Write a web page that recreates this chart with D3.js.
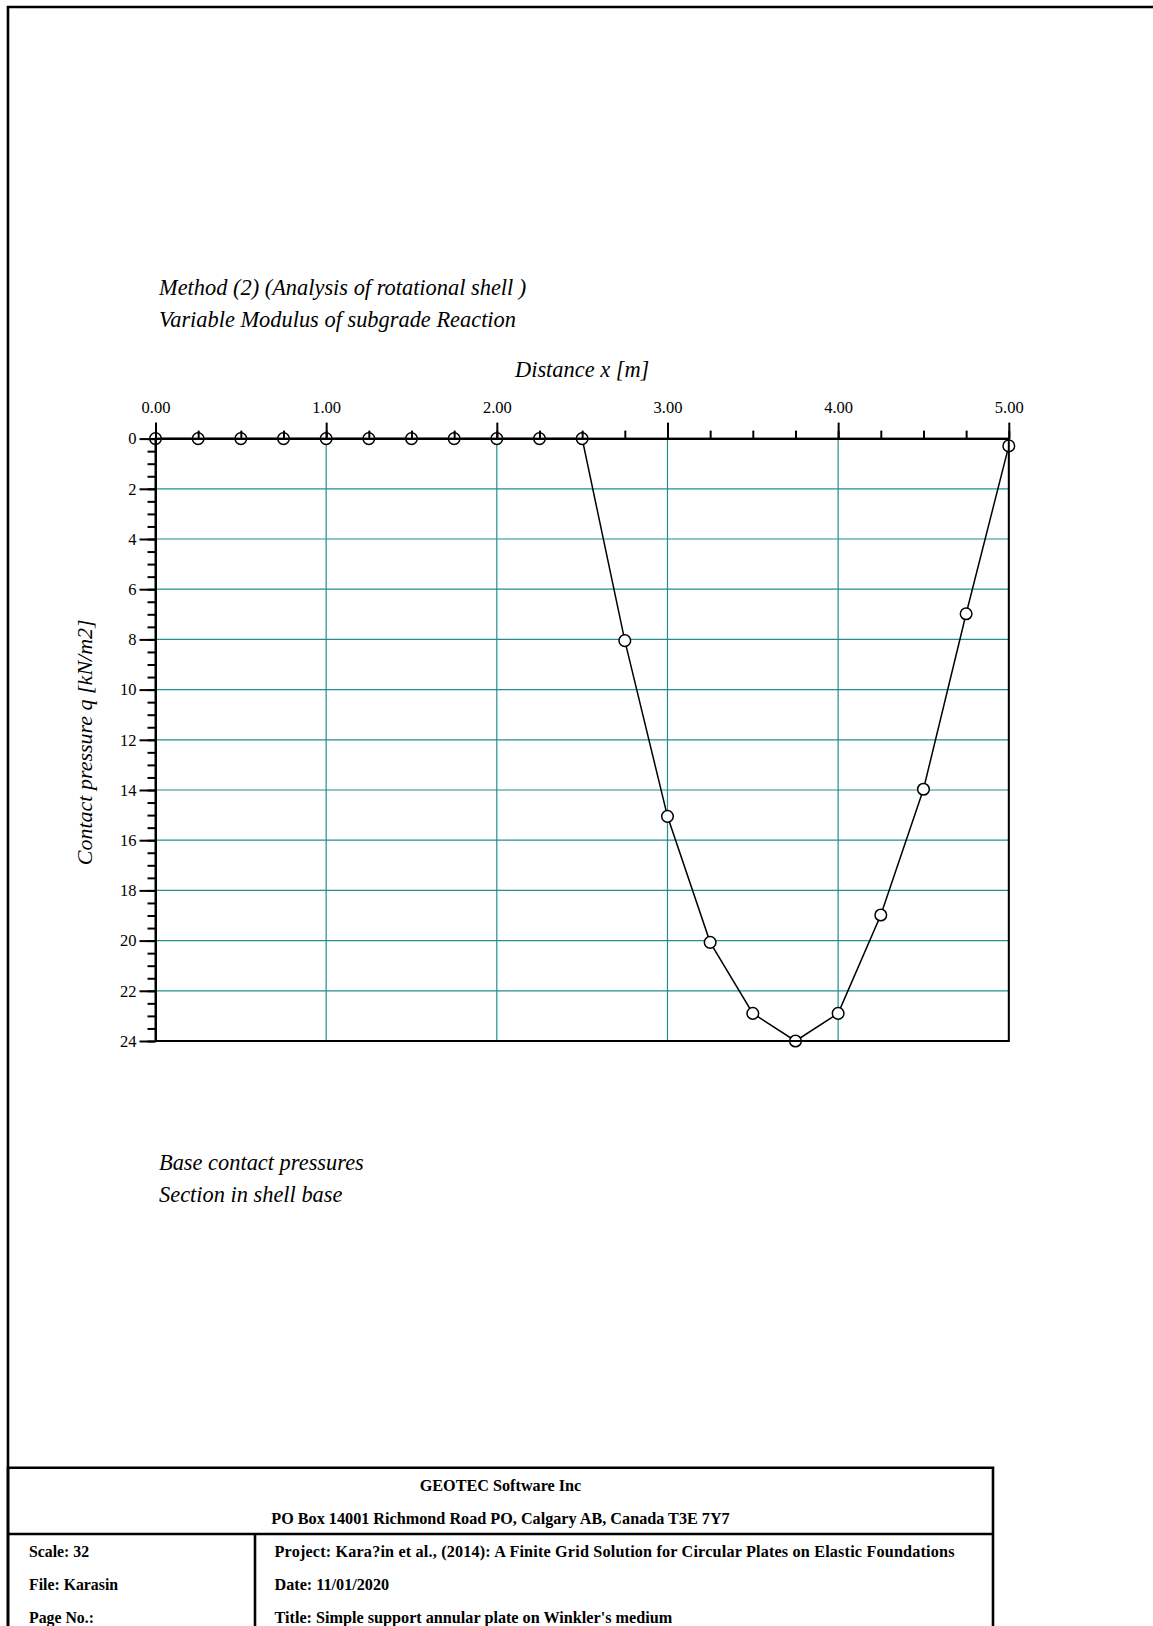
<!DOCTYPE html>
<html>
<head>
<meta charset="utf-8">
<script src="https://cdn.jsdelivr.net/npm/d3@7"></script>
<style>
  body { margin: 0; background: #fff; }
  svg { display: block; }
  text { font-family: "Liberation Serif", "Times New Roman", serif; fill: #000; }
</style>
</head>
<body>
<svg id="chart"></svg>
<script>
// data: distance x [m] and contact pressure q [kN/m2]
var distance = [0, 0.25, 0.5, 0.75, 1.0, 1.25, 1.5, 1.75, 2.0, 2.25, 2.5,
                2.75, 3.0, 3.25, 3.5, 3.75, 4.0, 4.25, 4.5, 4.75, 5.0];
var pressure = [0, 0, 0, 0, 0, 0, 0, 0, 0, 0, 0,
                8.05, 15.05, 20.07, 22.9, 24.0, 22.9, 18.98, 13.97, 6.98, 0.29];

var xTicks = [0, 1, 2, 3, 4, 5];
var yTicks = [0, 2, 4, 6, 8, 10, 12, 14, 16, 18, 20, 22, 24];

var titleLines = ["Method (2) (Analysis of rotational shell )", "Variable Modulus of subgrade Reaction"];
var footLines = ["Base contact pressures", "Section in shell base"];
var xTitle = "Distance x [m]";
var yTitle = "Contact pressure q [kN/m2]";

var headerLines = ["GEOTEC Software Inc", "PO Box 14001 Richmond Road PO, Calgary AB, Canada T3E 7Y7"];
var leftCells = ["Scale: 32", "File: Karasin", "Page No.:"];
var rightCells = ["Project: Kara?in et al., (2014): A Finite Grid Solution for Circular Plates on Elastic Foundations",
                  "Date: 11/01/2020",
                  "Title: Simple support annular plate on Winkler's medium"];

var W = 1153, H = 1626;
var margin = { top: 438.6, left: 155.5, right: 1153 - 1008.8, bottom: 1626 - 1041 };
var width = W - margin.left - margin.right;
var height = H - margin.top - margin.bottom;
var gridColor = "#228e8e";

var svg = d3.select("#chart").attr("width", W).attr("height", H);

// page frame
svg.append("path")
    .attr("d", "M8," + H + "V7H" + W)
    .attr("fill", "none").attr("stroke", "#000").attr("stroke-width", 2.6);

// set the ranges
var x = d3.scaleLinear().domain([0, 5]).range([0, width]);
var y = d3.scaleLinear().domain([0, 24]).range([0, height]);

var g = svg.append("g")
    .attr("transform", "translate(" + margin.left + "," + margin.top + ")");

// grid
g.selectAll("line.hgrid")
    .data(yTicks.filter(function (d) { return d > 0 && d < 24; }))
    .enter().append("line")
    .attr("x1", 0).attr("x2", width)
    .attr("y1", function (d) { return y(d); }).attr("y2", function (d) { return y(d); })
    .attr("stroke", gridColor).attr("stroke-width", 1.2);

g.selectAll("line.vgrid")
    .data(xTicks.filter(function (d) { return d > 0; }))
    .enter().append("line")
    .attr("y1", 0).attr("y2", height)
    .attr("x1", function (d) { return x(d); }).attr("x2", function (d) { return x(d); })
    .attr("stroke", gridColor).attr("stroke-width", 1.2);

// the pressure line
var pts = distance.map(function (d, i) { return { x: d, q: pressure[i] }; });

var valueline = d3.line()
    .x(function (d) { return x(d.x); })
    .y(function (d) { return y(d.q); });

g.append("path")
    .datum(pts)
    .attr("d", valueline)
    .attr("fill", "none").attr("stroke", "#000").attr("stroke-width", 1.5);

g.selectAll("circle.pt")
    .data(pts)
    .enter().append("circle")
    .attr("cx", function (d) { return x(d.x); })
    .attr("cy", function (d) { return y(d.q); })
    .attr("r", 5.8)
    .attr("fill", "#fff").attr("stroke", "#000").attr("stroke-width", 1.5);

// frame of the plot
g.append("rect")
    .attr("width", width).attr("height", height)
    .attr("fill", "none").attr("stroke", "#000").attr("stroke-width", 2);

// X axis (top), minor then major
var xMinor = g.append("g")
    .call(d3.axisTop(x).tickValues(d3.range(0, 5.01, 0.25)).tickSize(8).tickSizeOuter(0).tickFormat(""));
var xMajor = g.append("g")
    .call(d3.axisTop(x).tickValues(xTicks).tickSize(16).tickSizeOuter(0).tickPadding(10).tickFormat(d3.format(".2f")));

// Y axis (left), minor then major
var yMinor = g.append("g")
    .call(d3.axisLeft(y).tickValues(d3.range(0, 24.01, 0.5)).tickSize(8).tickSizeOuter(0).tickFormat(""));
var yMajor = g.append("g")
    .call(d3.axisLeft(y).tickValues(yTicks).tickSize(16).tickSizeOuter(0).tickPadding(3));

[xMinor, xMajor, yMinor, yMajor].forEach(function (a) {
    a.select(".domain").attr("stroke", "#000").attr("stroke-width", 2);
    a.selectAll(".tick line").attr("stroke", "#000").attr("stroke-width", 2);
    a.selectAll(".tick text")
        .attr("font-family", "'Liberation Serif', 'Times New Roman', serif")
        .attr("font-size", 16.5).attr("fill", "#000");
});
yMajor.selectAll(".tick text").attr("font-size", 16.5);

// titles
svg.selectAll("text.title")
    .data(titleLines)
    .enter().append("text")
    .attr("x", 159).attr("y", function (d, i) { return 294.5 + i * 32; })
    .attr("font-size", 22.4).attr("font-style", "italic")
    .text(function (d) { return d; });

svg.selectAll("text.foot")
    .data(footLines)
    .enter().append("text")
    .attr("x", 159).attr("y", function (d, i) { return 1169.5 + i * 32; })
    .attr("font-size", 22.4).attr("font-style", "italic")
    .text(function (d) { return d; });

svg.append("text")
    .attr("x", margin.left + x(2.5)).attr("y", 376.5)
    .attr("text-anchor", "middle")
    .attr("font-size", 22.4).attr("font-style", "italic")
    .text(xTitle);

svg.append("text")
    .attr("transform", "translate(91.5," + (margin.top + y(12.1)) + ") rotate(-90)")
    .attr("text-anchor", "middle")
    .attr("font-size", 22).attr("font-style", "italic")
    .text(yTitle);

// title block
var tb = svg.append("g");
var tbLeft = 8, tbRight = 993, tbTop = 1467.7, tbMid = 1534, tbDiv = 255;

tb.append("path")
    .attr("d", "M" + tbLeft + "," + H + "V" + tbTop + "H" + tbRight + "V" + H +
               "M" + tbLeft + "," + tbMid + "H" + tbRight +
               "M" + tbDiv + "," + tbMid + "V" + H)
    .attr("fill", "none").attr("stroke", "#000").attr("stroke-width", 2.6);

tb.selectAll("text.head")
    .data(headerLines)
    .enter().append("text")
    .attr("x", (tbLeft + tbRight) / 2).attr("y", function (d, i) { return 1490.5 + i * 33; })
    .attr("text-anchor", "middle")
    .attr("font-size", 16.2).attr("font-weight", "bold")
    .text(function (d) { return d; });

tb.selectAll("text.lcell")
    .data(leftCells)
    .enter().append("text")
    .attr("x", 29).attr("y", function (d, i) { return 1556.5 + i * 33; })
    .attr("font-size", 15.8).attr("font-weight", "bold")
    .text(function (d) { return d; });

tb.selectAll("text.rcell")
    .data(rightCells)
    .enter().append("text")
    .attr("x", 274.5).attr("y", function (d, i) { return 1556.5 + i * 33; })
    .attr("font-size", 16.2).attr("font-weight", "bold")
    .attr("textLength", function (d, i) { return i === 0 ? 680 : null; })
    .attr("lengthAdjust", "spacing")
    .text(function (d) { return d; });
</script>
</body>
</html>
